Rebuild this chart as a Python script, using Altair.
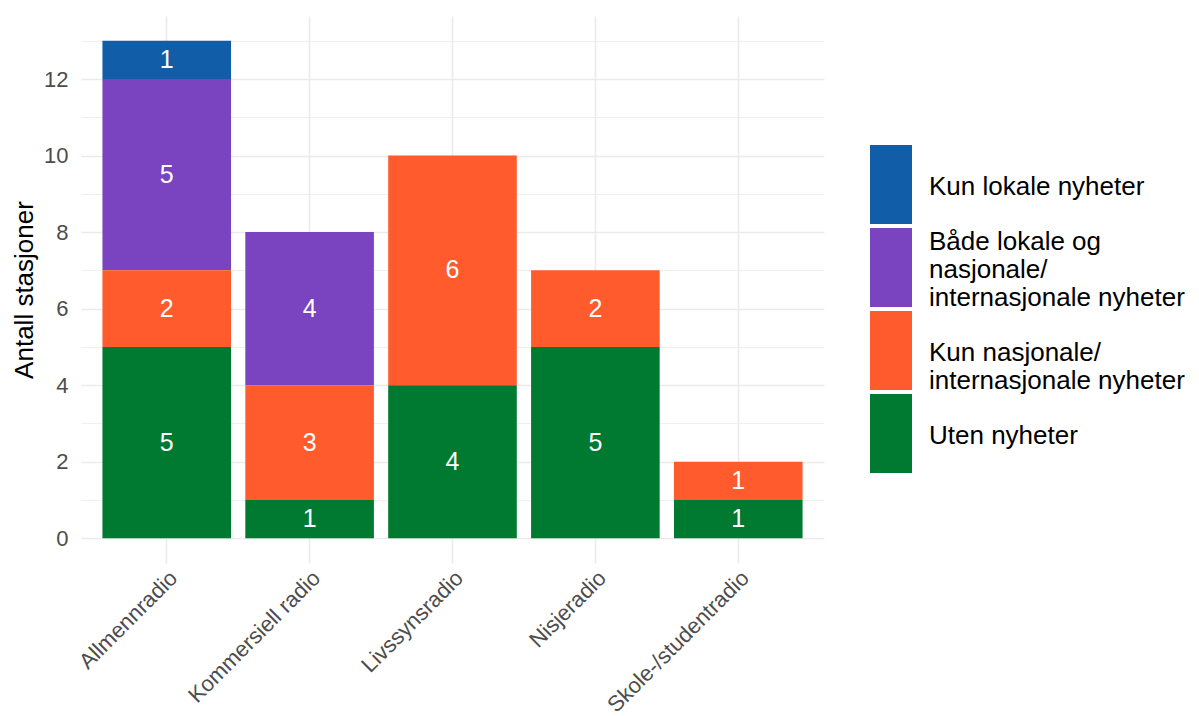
import altair as alt
import pandas as pd

stations = ["Allmennradio", "Kommersiell radio", "Livssynsradio", "Nisjeradio", "Skole-/studentradio"]
categories = [
    "Kun lokale nyheter",
    "Både lokale og\nnasjonale/\ninternasjonale nyheter",
    "Kun nasjonale/\ninternasjonale nyheter",
    "Uten nyheter",
]
colors = ["#115DA8", "#7A43BF", "#FF5B2D", "#007A30"]
stack_rank = [3, 2, 1, 0]

kun_lokale = [1, 0, 0, 0, 0]
begge = [5, 4, 0, 0, 0]
kun_nasjonale = [2, 3, 6, 2, 1]
uten = [5, 1, 4, 5, 1]

series = [kun_lokale, begge, kun_nasjonale, uten]
rows = []
for cat, rank, vals in zip(categories, stack_rank, series):
    for st, v in zip(stations, vals):
        rows.append({"station": st, "category": cat, "rank": rank, "value": v})
df = pd.DataFrame(rows)

# legend text lines (one row per printed line); offsets are pixels from key top
line_h = 28
key_half = 39.5
leg_rows = []
for cat in categories:
    parts = cat.split("\n")
    n = len(parts)
    for i, p in enumerate(parts):
        leg_rows.append({"category": cat, "line": p,
                         "dy": key_half + (i - (n - 1) // 2) * line_h + 10})
leg_df = pd.DataFrame(leg_rows)
key_df = pd.DataFrame({"category": categories})

font = "Liberation Sans"
color_scale = alt.Scale(domain=categories, range=colors)

x_enc = alt.X(
    "station:N",
    sort=stations,
    scale=alt.Scale(paddingInner=0.1, paddingOuter=0.15),
    axis=alt.Axis(
        title=None, labelAngle=-45, labelAlign="right", labelBaseline="top",
        ticks=False, domain=False, grid=True, gridColor="#EBEBEB", gridWidth=1.6,
        labelPadding=4, labelFontSize=22, labelColor="#4D4D4D", labelFont=font,
        bandPosition=0.5, labelLimit=0,
    ),
)
y_scale = alt.Scale(domain=[-0.65, 13.65], nice=False, zero=False)

base = alt.Chart(df).transform_filter("datum.value > 0")

bars = base.mark_bar().encode(
    x=x_enc,
    y=alt.Y(
        "value:Q",
        stack="zero",
        scale=y_scale,
        axis=alt.Axis(
            title="Antall stasjoner", titleFontSize=26, titleFont=font, titleFontWeight="normal",
            titleColor="black", titlePadding=6,
            values=list(range(0, 14)),
            labelExpr="datum.value % 2 == 0 ? datum.label : ''",
            labelFontSize=22, labelColor="#4D4D4D", labelFont=font, labelPadding=13,
            ticks=False, domain=False, grid=True, gridColor="#EBEBEB",
            gridWidth=alt.ConditionalAxisNumber(condition={"test": "datum.value % 2 == 0", "value": 1.6}, value=0.8),
        ),
    ),
    color=alt.Color("category:N", scale=color_scale, legend=None),
    order=alt.Order("rank:Q", sort="ascending"),
)

text = (
    base.transform_stack(
        stack="value", groupby=["station"], as_=["y0", "y1"],
        sort=[alt.SortField("rank", order="ascending")],
    )
    .transform_calculate(mid="(datum.y0 + datum.y1) / 2")
    .mark_text(color="white", fontSize=25, font=font, baseline="middle")
    .encode(x=alt.X("station:N", sort=stations), y=alt.Y("mid:Q", scale=y_scale), text="value:Q")
)

main = alt.layer(bars, text).properties(width=743, height=547)

leg_y = alt.Scale(domain=categories, range=[129, 457], paddingInner=0.05, paddingOuter=0)
keys = alt.Chart(key_df).mark_rect().encode(
    x=alt.value(0), x2=alt.value(42),
    y=alt.Y("category:N", scale=leg_y, axis=None, sort=categories),
    color=alt.Color("category:N", scale=color_scale, legend=None),
)
labels = alt.Chart(leg_df).mark_text(
    align="left", baseline="alphabetic", fontSize=26, font=font, color="black"
).encode(
    x=alt.value(59),
    y=alt.Y("category:N", scale=leg_y, axis=None, sort=categories),
    yOffset=alt.YOffset("dy:Q", scale=None),
    text="line:N",
)
legend = alt.layer(keys, labels).properties(width=300, height=547)

chart = (
    alt.hconcat(main, legend, spacing=46)
    .properties(padding={"left": 3, "top": 8, "right": 0, "bottom": 0})
    .configure_view(strokeWidth=0)
)

chart.save("out.html", embed_options={"renderer": "svg", "actions": False})
